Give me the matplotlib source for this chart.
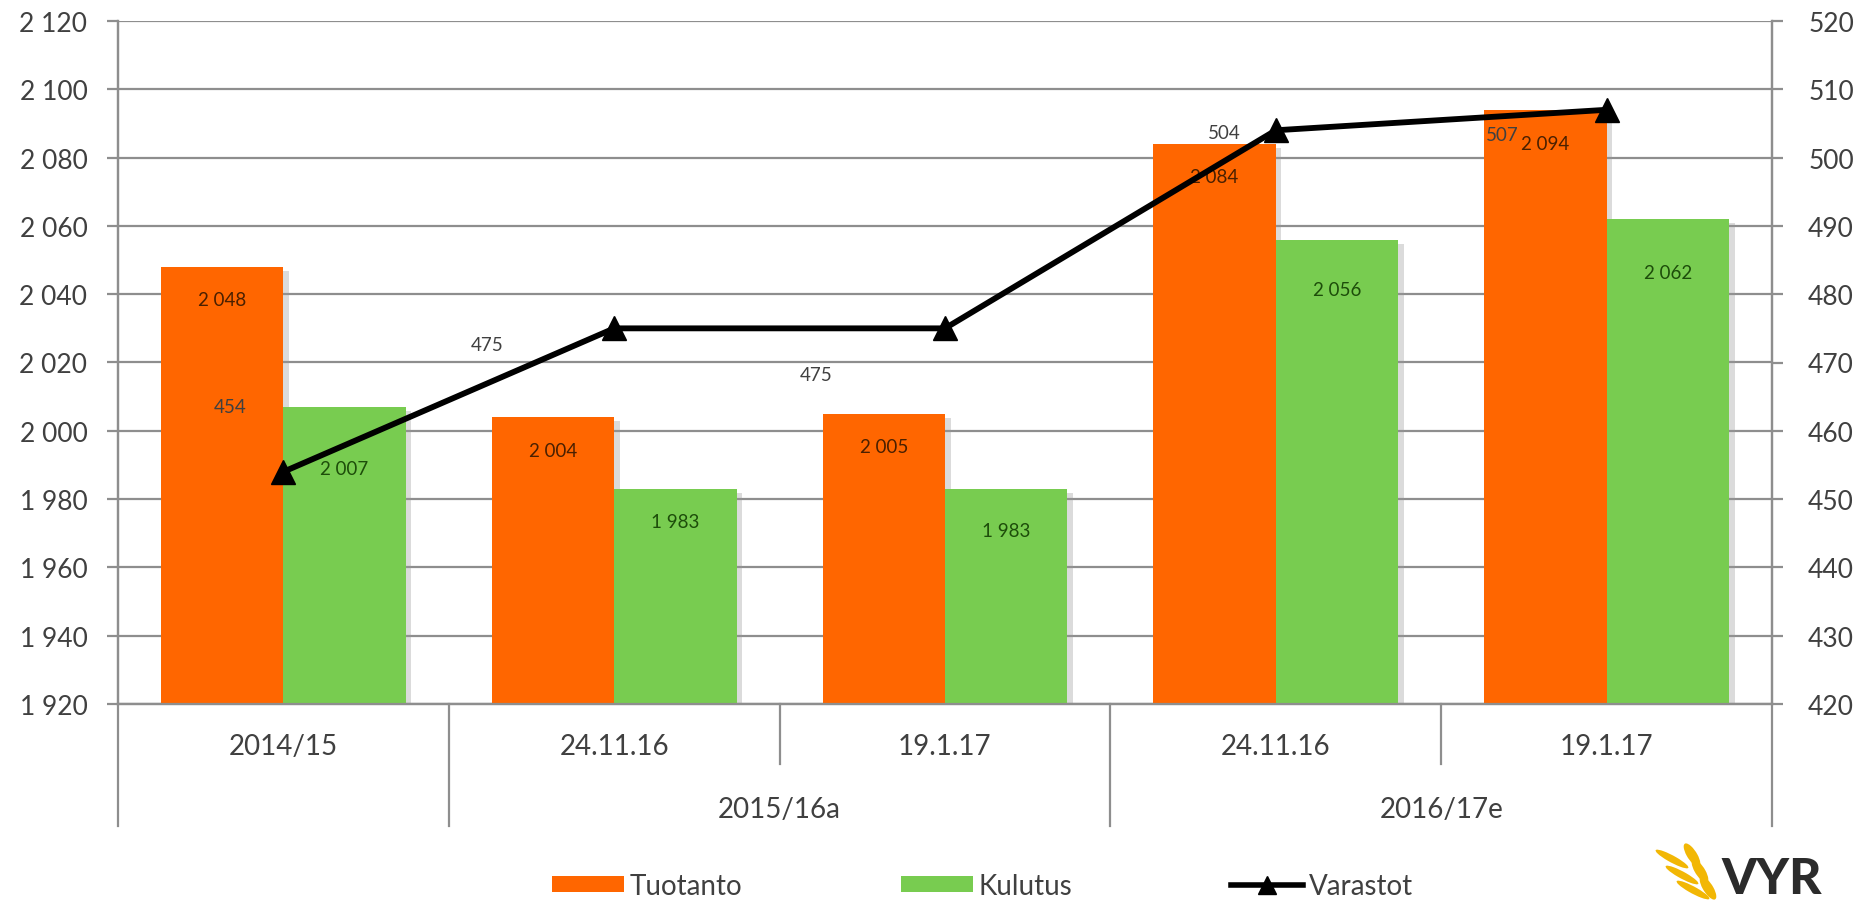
import matplotlib
matplotlib.use("Agg")
import matplotlib.pyplot as plt
from matplotlib.patches import Patch, Ellipse
from matplotlib.lines import Line2D
from matplotlib import patheffects as pe
import matplotlib.transforms as mtransforms

# ---------------- data ----------------
categories = ["2014/15", "24.11.16", "19.1.17", "24.11.16", "19.1.17"]
groups = ["2015/16a", "2016/17e"]
group_centers = [1.5, 3.5]
tuotanto = [2048, 2004, 2005, 2084, 2094]
kulutus = [2007, 1983, 1983, 2056, 2062]
varastot = [454, 475, 475, 504, 507]
left_ticks = [1920, 1940, 1960, 1980, 2000, 2020, 2040, 2060, 2080, 2100, 2120]
right_ticks = [420, 430, 440, 450, 460, 470, 480, 490, 500, 510, 520]

# label offsets (pixels) - style only
tuot_lab_dy = [-33, -33, -33, -33, -34]
kul_lab_dy = [-62, -33, -42, -50, -53]
var_lab_off = [(-53, 65), (-127, -16), (-129, -46), (-52, -2), (-104, -25)]

ORANGE = "#FF6600"
GREEN = "#78CC50"
GRID = "#8E8E8E"
TXT = "#404040"

plt.rcParams["font.family"] = ["Lato", "DejaVu Sans"]

def fmt(v):
    return f"{v:,}".replace(",", "\u00a0")

fig = plt.figure(figsize=(18.59, 9.04), dpi=100)
ax = fig.add_axes([118 / 1859, 1 - 705 / 904, (1772 - 118) / 1859, (705 - 22) / 904])
ax2 = ax.twinx()

ax.set_zorder(1)
ax2.set_zorder(2)
ax.patch.set_visible(False)

w = 0.37
x = list(range(len(categories)))
shadow = [pe.SimplePatchShadow(offset=(4, -3), shadow_rgbFace="#999999", alpha=0.35), pe.Normal()]
ax.bar([i - w / 2 for i in x], [t - left_ticks[0] for t in tuotanto], width=w,
       bottom=left_ticks[0], color=ORANGE, zorder=3, path_effects=shadow)
ax.bar([i + w / 2 for i in x], [k - left_ticks[0] for k in kulutus], width=w,
       bottom=left_ticks[0], color=GREEN, zorder=3, path_effects=shadow)

ax.set_xlim(-0.5, len(categories) - 0.5)
ax.set_ylim(left_ticks[0], left_ticks[-1])
ax.set_yticks(left_ticks)
ax.set_yticklabels([fmt(v) for v in left_ticks])
ax.yaxis.grid(True, color=GRID, linewidth=1.6, zorder=0)
ax.set_axisbelow(True)
ax.set_xticks([])

ax2.set_ylim(right_ticks[0], right_ticks[-1])
ax2.set_yticks(right_ticks)
ax2.set_yticklabels([str(v) for v in right_ticks])

for a in (ax, ax2):
    for s in a.spines.values():
        s.set_color(GRID)
        s.set_linewidth(1.6)
    a.spines["top"].set_visible(False)
ax.tick_params(axis="y", length=8, width=1.6, color=GRID, labelsize=19, labelcolor=TXT, pad=14)
ax2.tick_params(axis="y", length=8, width=1.6, color=GRID, labelsize=19, labelcolor=TXT, pad=18)

# line
ax2.plot(x, varastot, color="black", linewidth=4.2, marker="^", markersize=17,
         markerfacecolor="black", markeredgecolor="black", zorder=5, clip_on=False)

# data labels
for i, v in enumerate(tuotanto):
    ax.annotate(fmt(v), (i - w / 2, v), xytext=(0, tuot_lab_dy[i]), textcoords="offset pixels",
                ha="center", va="center", fontsize=13.5, color="#4a2000", zorder=6)
for i, v in enumerate(kulutus):
    ax.annotate(fmt(v), (i + w / 2, v), xytext=(0, kul_lab_dy[i]), textcoords="offset pixels",
                ha="center", va="center", fontsize=13.5, color="#1d4d0a", zorder=6)
for i, v in enumerate(varastot):
    ax2.annotate(str(v), (i, v), xytext=var_lab_off[i], textcoords="offset pixels",
                 ha="center", va="center", fontsize=13.5, color=TXT, zorder=6)

# category axis (two levels)
trans = mtransforms.blended_transform_factory(ax.transData, ax.transAxes)
for i, c in enumerate(categories):
    ax.text(i, -0.062, c, transform=trans, ha="center", va="center", fontsize=20, color=TXT)
for gx, g in zip(group_centers, groups):
    ax.text(gx, -0.154, g, transform=trans, ha="center", va="center", fontsize=20, color=TXT)
long_div = [-0.5, 0.5, 2.5, 4.5]
short_div = [1.5, 3.5]
for d in long_div:
    ax.plot([d, d], [0, -0.179], transform=trans, color=GRID, lw=1.6, clip_on=False)
for d in short_div:
    ax.plot([d, d], [0, -0.088], transform=trans, color=GRID, lw=1.6, clip_on=False)

# legend
handles = [Patch(facecolor=ORANGE, edgecolor="none"),
           Patch(facecolor=GREEN, edgecolor="none"),
           Line2D([], [], color="black", lw=4.0, marker="^", markersize=13)]
leg = fig.legend(handles, ["Tuotanto", "Kulutus", "Varastot"], loc="center",
                 bbox_to_anchor=(0.5285, 0.019), ncol=3, frameon=False, fontsize=20,
                 handlelength=2.6, handleheight=0.5, handletextpad=0.2, columnspacing=5.7)
for t in leg.get_texts():
    t.set_color(TXT)

# logo
fig.text(1772 / 1859, 2 / 904, "VYR", ha="center", va="bottom", fontsize=36,
         fontweight="black", color="#2b2b2b")
grains = [(1672, 860, 40), (1682, 876, 40), (1693, 891, 40),
          (1692, 856, 15), (1700, 872, 15), (1708, 889, 15)]
for (ex, ey, ang) in grains:
    fig.patches.append(Ellipse((ex / 1859, 1 - ey / 904), 11 / 1859, 24 / 904, angle=ang,
                               transform=fig.transFigure, facecolor="#F2B705", edgecolor="none"))

fig.savefig("out.png", dpi=100)
